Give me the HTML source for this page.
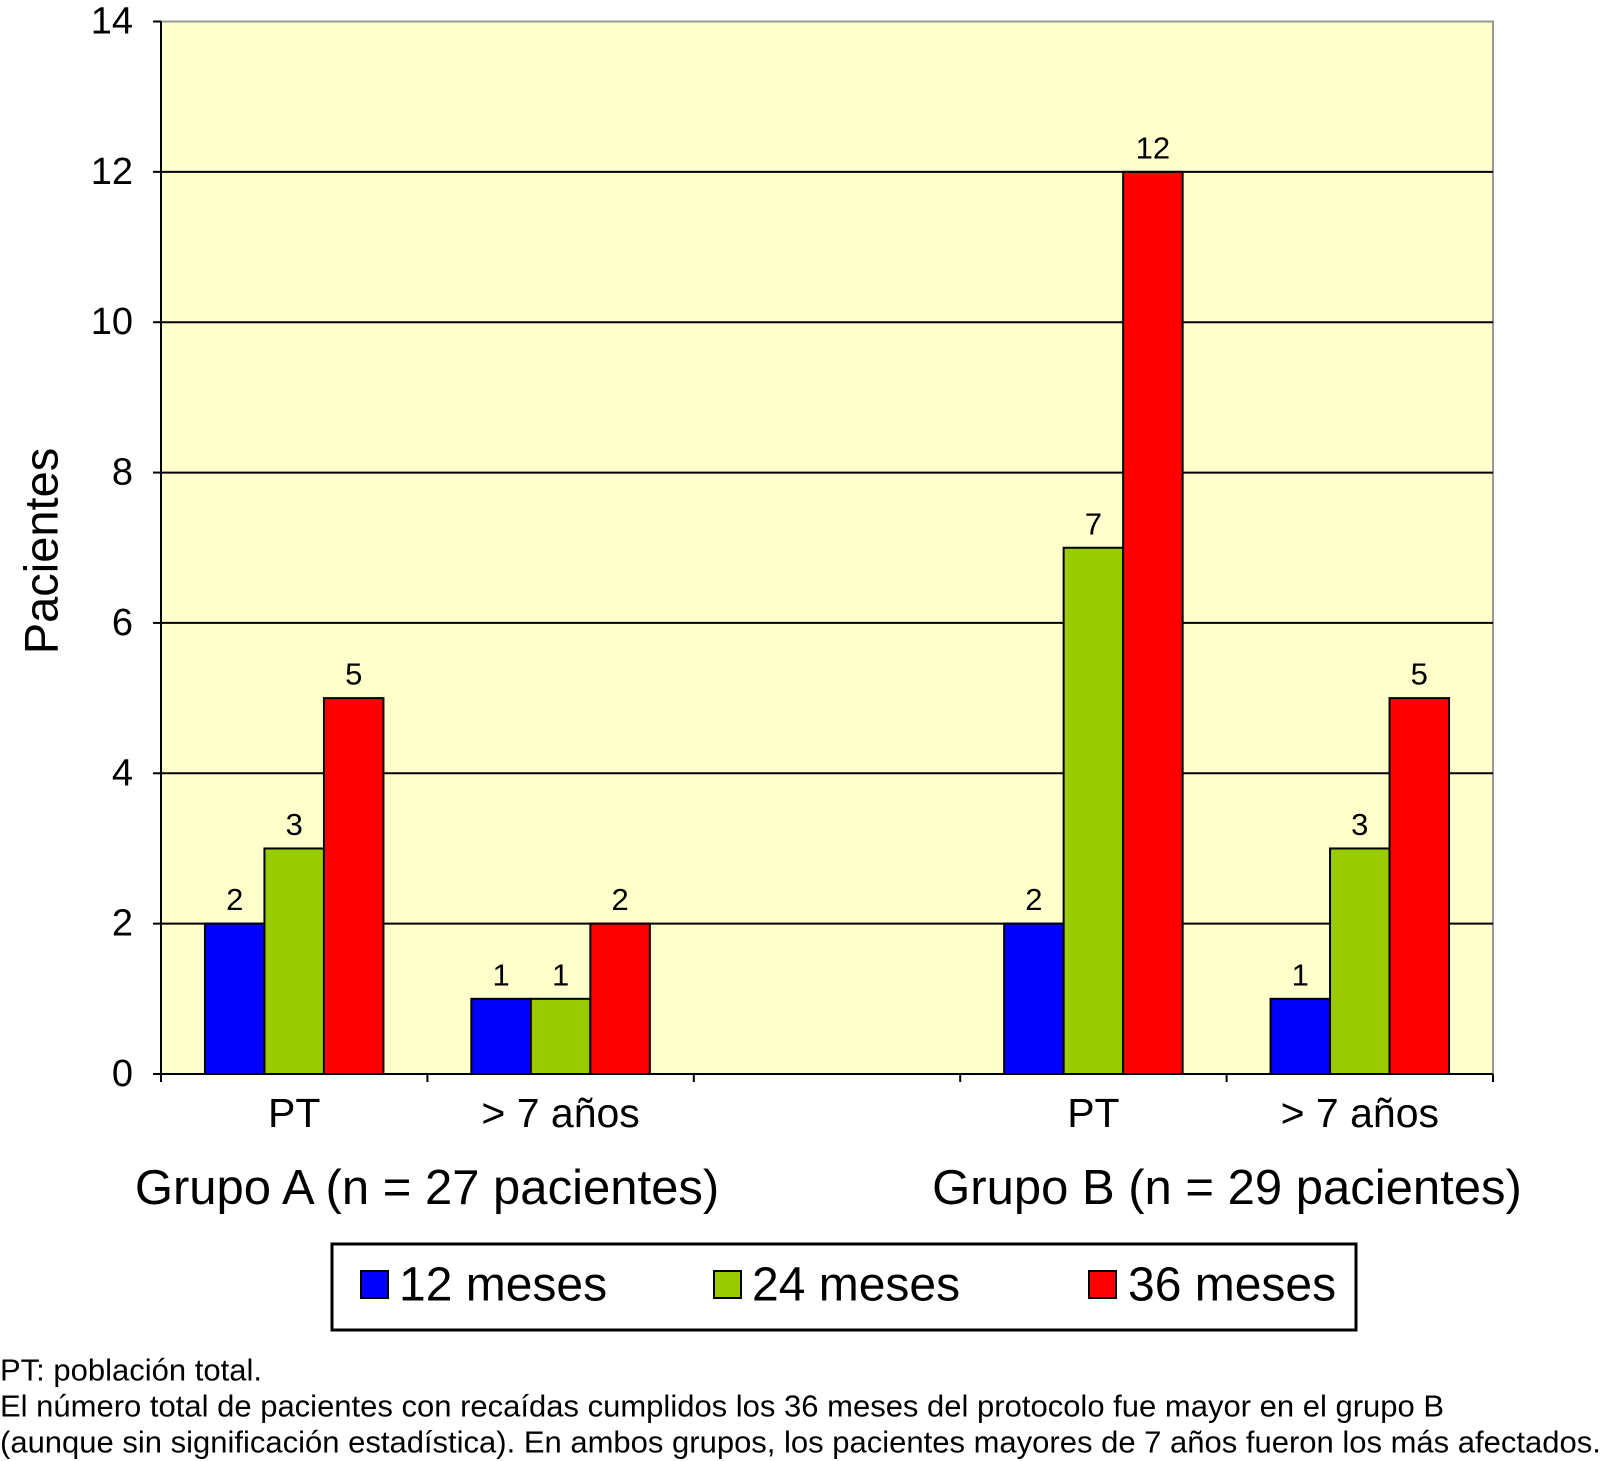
<!DOCTYPE html>
<html><head><meta charset="utf-8"><style>
html,body{margin:0;padding:0;background:#fff;}
svg{display:block;font-family:"Liberation Sans",sans-serif;}
</style></head><body>
<svg width="1607" height="1461" viewBox="0 0 1607 1461">
<rect x="161" y="21.5" width="1332" height="1052.5" fill="#ffffcc" stroke="#999" stroke-width="2"/>
<g id="grid"></g><g id="bars"></g><g id="axes"></g>
<text x="41" y="551" font-size="47" text-anchor="middle" dominant-baseline="central" transform="rotate(-90 41 551)">Pacientes</text>
<text x="427" y="1188" font-size="49" text-anchor="middle" dominant-baseline="central">Grupo A (n = 27 pacientes)</text>
<text x="1227" y="1188" font-size="49" text-anchor="middle" dominant-baseline="central">Grupo B (n = 29 pacientes)</text>
<g>
<rect x="332" y="1244" width="1024" height="86" fill="#fff" stroke="#000" stroke-width="3"/>
<rect x="361" y="1271" width="27" height="27" fill="#0000ff" stroke="#000" stroke-width="2"/>
<text x="399" y="1285" font-size="48" dominant-baseline="central">12 meses</text>
<rect x="714" y="1271" width="27" height="27" fill="#99cc00" stroke="#000" stroke-width="2"/>
<text x="752" y="1285" font-size="48" dominant-baseline="central">24 meses</text>
<rect x="1089" y="1271" width="27" height="27" fill="#ff0000" stroke="#000" stroke-width="2"/>
<text x="1128" y="1285" font-size="48" dominant-baseline="central">36 meses</text>
</g>
<g font-size="31">
<text x="0" y="1370" dominant-baseline="central">PT: población total.</text>
<text x="0" y="1406" dominant-baseline="central">El número total de pacientes con recaídas cumplidos los 36 meses del protocolo fue mayor en el grupo B</text>
<text x="0" y="1442" dominant-baseline="central">(aunque sin significación estadística). En ambos grupos, los pacientes mayores de 7 años fueron los más afectados.</text>
</g>
</svg>
<script>
const categories = ["PT", "> 7 años", "", "PT", "> 7 años"];
const s12 = [2, 1, null, 2, 1];
const s24 = [3, 1, null, 7, 3];
const s36 = [5, 2, null, 12, 5];
const yTicks = [0, 2, 4, 6, 8, 10, 12, 14];
const NS = "http://www.w3.org/2000/svg";
const L = 161, R = 1493, Y0 = 1074, Y14 = 21.5;
const slotW = (R - L) / categories.length;
const barW = 59.5;
const y = v => Y0 - (v / 14) * (Y0 - Y14);
function mk(tag, attrs, parent, txt) {
  const e = document.createElementNS(NS, tag);
  for (const k in attrs) e.setAttribute(k, attrs[k]);
  if (txt !== undefined) e.textContent = txt;
  parent.appendChild(e);
  return e;
}
const grid = document.getElementById('grid'), bars = document.getElementById('bars'), axes = document.getElementById('axes');
yTicks.forEach(t => {
  if (t > 0 && t < 14) {
    const g = mk('line', {x1: L, x2: R, y1: y(t), y2: y(t), stroke: '#000', 'stroke-width': 2}, grid);
    
    
  }
  mk('line', {x1: L - 8, x2: L, y1: y(t), y2: y(t), stroke: '#000', 'stroke-width': 2}, axes);
  const lb = mk('text', {x: 133, y: y(t), 'font-size': 38, 'text-anchor': 'end', 'dominant-baseline': 'central'}, axes, t);
  
  
});
mk('line', {x1: L, x2: L, y1: Y14, y2: Y0, stroke: '#000', 'stroke-width': 2}, axes);
mk('line', {x1: L, x2: R, y1: Y0, y2: Y0, stroke: '#000', 'stroke-width': 2}, axes);
for (let i = 0; i <= categories.length; i++) {
  mk('line', {x1: L + i * slotW, x2: L + i * slotW, y1: Y0, y2: Y0 + 8, stroke: '#000', 'stroke-width': 2}, axes);
}
const series = [[s12, '#0000ff', 'bar-12'], [s24, '#99cc00', 'bar-24'], [s36, '#ff0000', 'bar-36']];
categories.forEach((c, i) => {
  const cx = L + (i + 0.5) * slotW;
  if (c) {
    const cl = mk('text', {x: cx, y: 1113, 'font-size': 41, 'text-anchor': 'middle', 'dominant-baseline': 'central'}, axes, c);
    
    
  }
  series.forEach((s, j) => {
    const v = s[0][i];
    if (v == null) return;
    const x = cx + (j - 1.5) * barW;
    const r = mk('rect', {x: x, y: y(v), width: barW, height: Y0 - y(v), fill: s[1], stroke: '#000', 'stroke-width': 2}, bars);
    
    
    const t = mk('text', {x: x + barW / 2, y: y(v) - 24, 'font-size': 31, 'text-anchor': 'middle', 'dominant-baseline': 'central'}, bars, v);
    
    
  });
});
</script>
</body></html>
